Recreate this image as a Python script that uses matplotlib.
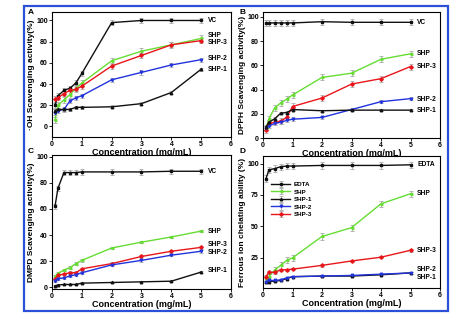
import matplotlib
matplotlib.use("Agg")
import matplotlib.pyplot as plt
from matplotlib.patches import Rectangle

plt.rcParams['font.family'] = ['Liberation Sans', 'DejaVu Sans']
plt.rcParams['font.weight'] = 'bold'

conc = [0.1, 0.2, 0.4, 0.6, 0.8, 1, 2, 3, 4, 5]

# Panel A: OH scavenging
a_vc   = [20, 29, 34, 36, 41, 50, 98, 100, 100, 100]
a_shp  = [6, 20, 25, 30, 36, 41, 62, 71, 77, 83]
a_shp3 = [26, 27, 31, 34, 35, 38, 57, 67, 77, 81]
a_shp2 = [13, 15, 16, 24, 27, 29, 44, 51, 58, 63]
a_shp1 = [15, 16, 16, 16, 18, 18, 18.5, 21.5, 32, 54]

# Panel B: DPPH scavenging
b_vc   = [95, 95, 95, 95, 95, 95, 96, 95.5, 95.5, 95.5]
b_shp  = [8, 16, 25, 29, 32, 35.5, 50, 53.5, 65, 69.5]
b_shp3 = [7, 12, 13, 14, 17, 26, 33, 44.5, 49, 59]
b_shp2 = [8, 10, 12, 13, 14.5, 15.5, 17, 23.5, 30, 32.5]
b_shp1 = [9, 13, 16, 20.5, 21, 23.5, 22.5, 23, 23, 23]

# Panel C: DMPD scavenging
c_vc   = [62, 76, 88, 88, 88, 88.5, 88.5, 88.5, 89, 89]
c_shp  = [8.5, 10.5, 13, 15, 18, 20.5, 30, 34.5, 38.5, 43]
c_shp3 = [6, 9, 10, 11, 11, 14, 18, 23.5, 27.5, 30.5]
c_shp2 = [5, 6.5, 7, 8.5, 9.5, 11, 17, 20.5, 24.5, 27.5]
c_shp1 = [1, 1.5, 2, 2, 2, 3, 3.5, 4, 4.5, 11.5]

# Panel D: ferrous ion chelating
d_edta = [88, 95, 96, 97.5, 98, 98, 98.5, 98.5, 98.5, 99]
d_shp  = [8, 10, 15.5, 19, 23, 25, 42, 49, 68, 76]
d_shp3 = [10, 13.5, 13.5, 15.5, 15.5, 16, 19, 22.5, 25.5, 31]
d_shp2 = [6, 7, 7, 7.5, 9, 10, 10.5, 11, 12, 13]
d_shp1 = [5.5, 6, 6.5, 7, 8.5, 10, 10.5, 10.5, 11.5, 13]

# error bar half-widths (per panel, per series)
a_err = {'VC': 2.5, 'SHP': 3, 'SHP-3': 2.5, 'SHP-2': 2, 'SHP-1': 1.5}
b_err = {'VC': 2.5, 'SHP': 2.5, 'SHP-3': 2.5, 'SHP-2': 1.5, 'SHP-1': 1}
c_err = {'VC': 2, 'SHP': 1, 'SHP-3': 1, 'SHP-2': 1, 'SHP-1': 0.5}
d_err = {'EDTA': 2.5, 'SHP': 2.5, 'SHP-3': 1, 'SHP-2': 0.5, 'SHP-1': 0.5}

BLACK = '#111111'
GREEN = '#66dd33'
RED = '#e8161b'
BLUE = '#2233dd'

styles = {
    'VC': (BLACK, 's'), 'EDTA': (BLACK, 's'),
    'SHP': (GREEN, '<'), 'SHP-1': (BLACK, '^'),
    'SHP-2': (BLUE, 'v'), 'SHP-3': (RED, 'D'),
}

fig = plt.figure(figsize=(4.74, 3.22), dpi=100)

fig.add_artist(Rectangle((0.0506, 0.0342), 0.8945, 0.9472, transform=fig.transFigure,
                         fill=False, edgecolor='#2c4fd8', linewidth=1.6))

rects = {
    'A': [0.1097, 0.5745, 0.3776, 0.3882],
    'B': [0.5549, 0.5714, 0.3734, 0.3913],
    'C': [0.1097, 0.1025, 0.3776, 0.4161],
    'D': [0.5549, 0.1056, 0.3734, 0.4099],
}

panels = [
    ('A', '·OH Scavenging activity(%)', (-10, 108), [0, 20, 40, 60, 80, 100],
     [('VC', a_vc), ('SHP', a_shp), ('SHP-3', a_shp3), ('SHP-2', a_shp2), ('SHP-1', a_shp1)], a_err,
     {'VC': 100, 'SHP': 86, 'SHP-3': 79, 'SHP-2': 64, 'SHP-1': 54}),
    ('B', 'DPPH Scavenging activity(%)', (0, 104), [0, 20, 40, 60, 80, 100],
     [('VC', b_vc), ('SHP', b_shp), ('SHP-3', b_shp3), ('SHP-2', b_shp2), ('SHP-1', b_shp1)], b_err,
     {'VC': 95, 'SHP': 70, 'SHP-3': 59, 'SHP-2': 32, 'SHP-1': 23}),
    ('C', 'DMPD Scavenging activity(%)', (-1.5, 101.5), [0, 20, 40, 60, 80, 100],
     [('VC', c_vc), ('SHP', c_shp), ('SHP-3', c_shp3), ('SHP-2', c_shp2), ('SHP-1', c_shp1)], c_err,
     {'VC': 89, 'SHP': 43, 'SHP-3': 33, 'SHP-2': 26.5, 'SHP-1': 13}),
    ('D', 'Ferrous ion chelating ability (%)', (1, 106), [25, 50, 75, 100],
     [('EDTA', d_edta), ('SHP', d_shp), ('SHP-1', d_shp1), ('SHP-2', d_shp2), ('SHP-3', d_shp3)], d_err,
     {'EDTA': 99, 'SHP': 76, 'SHP-3': 31, 'SHP-2': 15.5, 'SHP-1': 9.5}),
]

for key, ylabel, ylim, yticks, series, errs, labpos in panels:
    ax = fig.add_axes(rects[key])
    for name, vals in series:
        col, mk = styles[name]
        ax.errorbar(conc, vals, yerr=errs[name], color=col, ecolor='#aaaaaa',
                    elinewidth=0.6, capsize=1.5, capthick=0.6, marker=mk,
                    markersize=1.8, linewidth=1.0, label=name)
        ax.text(5.22, labpos[name], name, fontsize=4.8, fontweight='bold',
                ha='left', va='center')
    ax.set_xlim(0, 6)
    ax.set_ylim(*ylim)
    ax.set_xticks([0, 1, 2, 3, 4, 5, 6])
    ax.set_yticks(yticks)
    ax.tick_params(labelsize=5, length=2, width=0.6, pad=1)
    for lab in ax.get_xticklabels() + ax.get_yticklabels():
        lab.set_fontweight('bold')
    for sp in ax.spines.values():
        sp.set_linewidth(0.8)
    ax.set_xlabel('Concentration (mg/mL)', fontsize=6.5, fontweight='bold', labelpad=0)
    ax.set_ylabel(ylabel, fontsize=6, fontweight='bold', labelpad=1)
    if key == 'D':
        ax.legend(loc='upper left', bbox_to_anchor=(0.03, 0.83), frameon=False,
                  fontsize=4.5, handlelength=3, labelspacing=0.35, borderpad=0,
                  handletextpad=0.6)

fig.text(0.059, 0.962, 'A', fontsize=6, fontweight='bold', ha='left', va='center')
fig.text(0.506, 0.962, 'B', fontsize=6, fontweight='bold', ha='left', va='center')
fig.text(0.059, 0.531, 'C', fontsize=6, fontweight='bold', ha='left', va='center')
fig.text(0.506, 0.531, 'D', fontsize=6, fontweight='bold', ha='left', va='center')

fig.savefig('out.png', dpi=100)
